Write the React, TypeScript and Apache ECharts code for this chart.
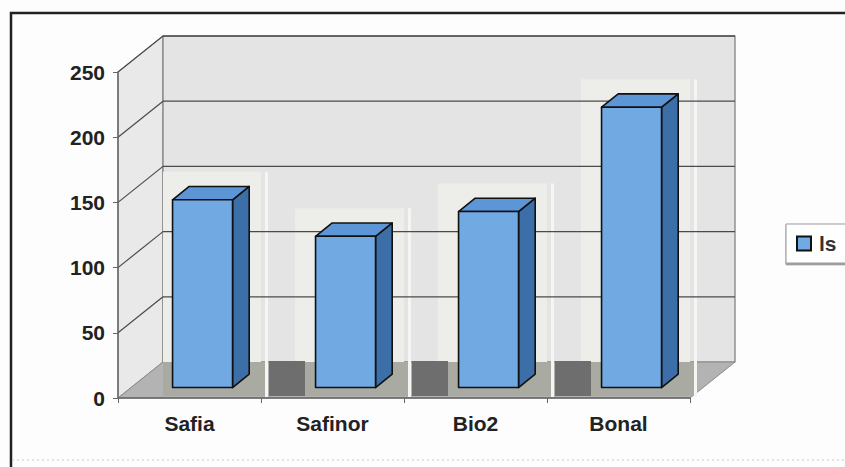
import React, { useEffect, useRef } from "react";
import * as echarts from "echarts";

const categories = ["Safia", "Safinor", "Bio2", "Bonal"];
const seriesName = "ls";
const values = [144, 116, 135, 215];
const yMin = 0;
const yMax = 250;
const yStep = 50;
const gridValues = [50, 100, 150, 200, 250];

const FONT = "'Liberation Sans', Arial, sans-serif";
const DX = 45; // depth offset x
const DY = 36; // depth offset y
const F0 = 0.29; // bar front depth fraction
const F1 = 0.66; // bar back depth fraction
const BAR_W = 60;

export default function App() {
  const ref = useRef<HTMLDivElement>(null);
  useEffect(() => {
    document.body.style.margin = "0";
    const chart = echarts.init(ref.current!, null, { renderer: "svg" });

    const wallsRender = (params: any, api: any) => {
      const cs = params.coordSys;
      const x0 = cs.x;
      const x1 = cs.x + cs.width;
      const yT = api.coord([0, yMax])[1];
      const yB = api.coord([0, yMin])[1];
      return {
        type: "group",
        children: [
          {
            type: "polygon",
            shape: { points: [[x0, yT], [x0 + DX, yT - DY], [x0 + DX, yB - DY], [x0, yB]] },
            style: { fill: "#e9e9e9", stroke: "#8a8a8a", lineWidth: 1 },
          },
          {
            type: "rect",
            shape: { x: x0 + DX, y: yT - DY, width: x1 - x0, height: yB - yT },
            style: { fill: "#e4e4e4", stroke: "#7a7a7a", lineWidth: 1.2 },
          },
          {
            type: "polygon",
            shape: { points: [[x0, yB], [x0 + DX, yB - DY], [x1 + DX, yB - DY], [x1, yB]] },
            style: { fill: "#b3b3b3", stroke: "#8a8a8a", lineWidth: 1 },
          },
        ],
      };
    };

    const gridRender = (params: any, api: any) => {
      const cs = params.coordSys;
      const x0 = cs.x;
      const x1 = cs.x + cs.width;
      const children: any[] = [];
      gridValues.forEach((v) => {
        const y = api.coord([0, v])[1];
        children.push({
          type: "line",
          shape: { x1: x0 + DX, y1: y - DY, x2: x1 + DX, y2: y - DY },
          style: { stroke: "#4a4a4a", lineWidth: 1.3 },
        });
        children.push({
          type: "line",
          shape: { x1: x0, y1: y, x2: x0 + DX, y2: y - DY },
          style: { stroke: "#4a4a4a", lineWidth: 1.2 },
        });
      });
      return { type: "group", children };
    };

    const artifactRender = (params: any, api: any) => {
      const cs = params.coordSys;
      const x0 = cs.x;
      const i = api.value(0);
      const [cx, yv] = api.coord([i, api.value(1)]);
      const yB = api.coord([i, yMin])[1];
      const band = api.size([1, 0])[0];
      const a = cx - band / 2;
      const b = cx + band / 2;
      const frontTop = yv - F0 * DY;
      const lightTop = frontTop - 28;
      const lx = i === 0 ? x0 + DX : a + 34;
      const gx = i === 0 ? x0 + DX : a + 44;
      const children: any[] = [
        {
          type: "rect",
          shape: { x: lx, y: lightTop, width: b - lx, height: yB - DY - lightTop },
          style: { fill: "#ededea" },
        },
        {
          type: "rect",
          shape: { x: gx, y: yB - DY, width: b + 5 - gx, height: DY - 2 },
          style: { fill: "#a9aaa1" },
        },
        {
          type: "rect",
          shape: { x: b + 4, y: lightTop, width: 3, height: yB - lightTop - 1 },
          style: { fill: "#f5f5f3" },
        },
      ];
      if (i > 0) {
        children.push({
          type: "rect",
          shape: { x: a + 8, y: yB - DY - 1, width: 36, height: DY - 1 },
          style: { fill: "#6e6e6e" },
        });
      }
      return { type: "group", children };
    };

    const barRender = (params: any, api: any) => {
      const i = api.value(0);
      const [cx, yv] = api.coord([i, api.value(1)]);
      const y0 = api.coord([i, yMin])[1];
      const ox = F0 * DX;
      const oy = F0 * DY;
      const sx = (F1 - F0) * DX;
      const sy = (F1 - F0) * DY;
      const fl = cx + ox - BAR_W / 2;
      const fr = cx + ox + BAR_W / 2;
      const ft = yv - oy;
      const fb = y0 - oy;
      const stroke = { stroke: "#111", lineWidth: 1.6, lineJoin: "round" };
      return {
        type: "group",
        children: [
          {
            type: "polygon",
            shape: { points: [[fr, ft], [fr + sx, ft - sy], [fr + sx, fb - sy], [fr, fb]] },
            style: { fill: "#3c6fa8", ...stroke },
          },
          {
            type: "polygon",
            shape: { points: [[fl, ft], [fl + sx, ft - sy], [fr + sx, ft - sy], [fr, ft]] },
            style: { fill: "#5c96d6", ...stroke },
          },
          {
            type: "rect",
            shape: { x: fl, y: ft, width: BAR_W, height: fb - ft },
            style: { fill: "#71a9e2", ...stroke },
          },
        ],
      };
    };

    const data = values.map((v, i) => [i, v]);

    chart.setOption({
      animation: false,
      backgroundColor: "#fdfdfd",
      grid: { left: 118, top: 72, width: 572, height: 326 },
      xAxis: {
        type: "category",
        data: categories,
        z: 10,
        axisLine: { show: true, lineStyle: { color: "#666", width: 1.5 } },
        axisTick: { show: true, length: 5, lineStyle: { color: "#666" } },
        axisLabel: { margin: 15, fontSize: 21, fontWeight: "bold", color: "#222", fontFamily: FONT },
        splitLine: { show: false },
      },
      yAxis: {
        type: "value",
        min: yMin,
        max: yMax,
        interval: yStep,
        z: 10,
        axisLine: { show: true, lineStyle: { color: "#666", width: 1.5 } },
        axisTick: { show: true, length: 5, lineStyle: { color: "#666" } },
        axisLabel: { margin: 13, fontSize: 21, fontWeight: "bold", color: "#222", fontFamily: FONT },
        splitLine: { show: false },
      },
      legend: {
        data: [seriesName],
        left: 786,
        top: 224,
        orient: "vertical",
        icon: "rect",
        itemWidth: 14,
        itemHeight: 14,
        padding: [9, 60, 9, 10],
        backgroundColor: "#ffffff",
        borderColor: "#999",
        borderWidth: 1,
        borderRadius: 0,
        shadowColor: "rgba(0,0,0,0.5)",
        shadowOffsetY: 1.5,
        shadowBlur: 0,
        itemStyle: { borderColor: "#111", borderWidth: 2 },
        textStyle: { fontSize: 21, fontWeight: "bold", color: "#333", fontFamily: FONT, padding: [0, 0, 0, 3] },
      },
      graphic: [
        {
          type: "rect",
          z: 100,
          silent: true,
          shape: { x: 11, y: 13, width: 900, height: 600 },
          style: { fill: "none", stroke: "#222", lineWidth: 2.5 },
        },
        {
          type: "line",
          z: 100,
          silent: true,
          shape: { x1: 12, y1: 460, x2: 845, y2: 460 },
          style: { stroke: "#c8c8c8", lineWidth: 1, lineDash: [2, 3] },
        },
      ],
      series: [
        { type: "custom", z: 1, silent: true, data: [[0, 0]], renderItem: wallsRender },
        { type: "custom", z: 2, silent: true, data, renderItem: artifactRender },
        { type: "custom", z: 3, silent: true, data: [[0, 0]], renderItem: gridRender },
        {
          name: seriesName,
          type: "custom",
          z: 4,
          data,
          itemStyle: { color: "#71a9e2" },
          renderItem: barRender,
        },
      ],
    });
    return () => chart.dispose();
  }, []);
  return <div ref={ref} style={{ width: 845, height: 467 }} />;
}
